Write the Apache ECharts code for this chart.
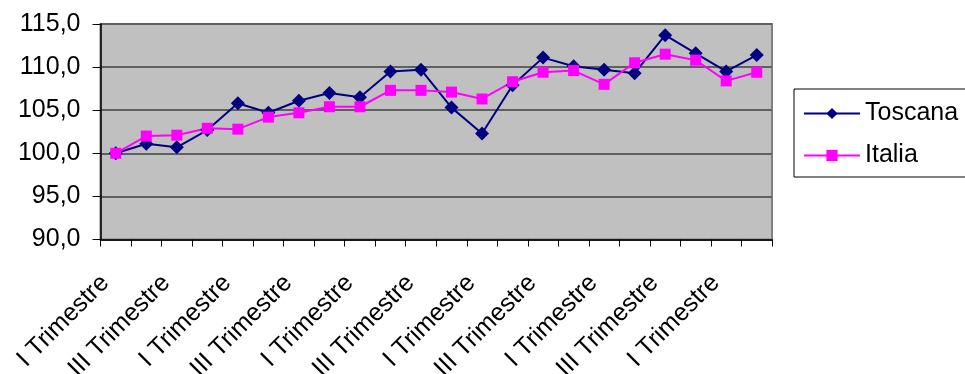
<!DOCTYPE html>
<html>
<head>
<meta charset="utf-8">
<script src="https://cdn.jsdelivr.net/npm/echarts@6/dist/echarts.min.js"></script>
<style>
  html, body { margin: 0; padding: 0; background: #fff; }
  #chart { width: 965px; height: 374px; }
</style>
</head>
<body>
<div id="chart"></div>
<script>
// Quarterly index (first quarter = 100)
const quarters = [
  'I Trimestre', 'II Trimestre', 'III Trimestre', 'IV Trimestre',
  'I Trimestre', 'II Trimestre', 'III Trimestre', 'IV Trimestre',
  'I Trimestre', 'II Trimestre', 'III Trimestre', 'IV Trimestre',
  'I Trimestre', 'II Trimestre', 'III Trimestre', 'IV Trimestre',
  'I Trimestre', 'II Trimestre', 'III Trimestre', 'IV Trimestre',
  'I Trimestre', 'II Trimestre'
];
const toscana = [100.0, 101.1, 100.7, 102.7, 105.8, 104.7, 106.1, 107.0, 106.5, 109.5, 109.7,
                 105.3, 102.3, 107.9, 111.1, 110.1, 109.7, 109.3, 113.7, 111.6, 109.5, 111.4];
const italia  = [100.0, 102.0, 102.1, 102.9, 102.8, 104.2, 104.7, 105.4, 105.4, 107.3, 107.3,
                 107.1, 106.3, 108.3, 109.4, 109.6, 108.0, 110.5, 111.5, 110.8, 108.4, 109.4];
const yTicks = { min: 90, max: 115, step: 5 };

const FONT = 'Liberation Sans, Arial, sans-serif';

const chart = echarts.init(document.getElementById('chart'), null, { renderer: 'canvas' });
chart.setOption({
  animation: false,
  backgroundColor: '#ffffff',
  grid: {
    left: 100.5, right: 193, top: 24, bottom: 134.5,
    containLabel: false,
    outerBoundsMode: 'none',
    show: true, backgroundColor: '#c0c0c0', borderColor: '#808080', borderWidth: 2
  },
  legend: {
    orient: 'vertical',
    left: 794, top: 89,
    padding: [12, 14, 9, 9],
    itemGap: 17,
    itemWidth: 56, itemHeight: 14,
    backgroundColor: '#ffffff',
    borderColor: '#000000', borderWidth: 1,
    textStyle: { fontFamily: FONT, fontSize: 25, color: '#000', lineHeight: 24 },
    data: ['Toscana', 'Italia']
  },
  xAxis: {
    type: 'category',
    data: quarters,
    boundaryGap: true,
    axisLine: { lineStyle: { color: '#000', width: 1.5 } },
    axisTick: { show: true, interval: 0, length: 7, lineStyle: { color: '#000', width: 1 } },
    axisLabel: {
      interval: 1, rotate: 45, margin: 29,
      padding: [0, 15, 0, 0],
      fontFamily: FONT, fontSize: 25, color: '#000'
    },
    splitLine: { show: false }
  },
  yAxis: {
    type: 'value',
    min: yTicks.min, max: yTicks.max, interval: yTicks.step,
    axisLine: { show: true, lineStyle: { color: '#000', width: 1.5 } },
    axisTick: { show: true, length: 8, lineStyle: { color: '#000', width: 1 } },
    axisLabel: {
      margin: 20,
      fontFamily: FONT, fontSize: 25, color: '#000',
      formatter: v => v.toFixed(1).replace('.', ',')
    },
    splitLine: { show: true, lineStyle: { color: '#606060', width: 2 } }
  },
  series: [
    {
      name: 'Toscana', type: 'line', data: toscana,
      symbol: 'diamond', symbolSize: 14,
      lineStyle: { color: '#000080', width: 2 },
      itemStyle: { color: '#000080' }
    },
    {
      name: 'Italia', type: 'line', data: italia,
      symbol: 'rect', symbolSize: 11,
      lineStyle: { color: '#ff00ff', width: 2 },
      itemStyle: { color: '#ff00ff' }
    }
  ]
});
</script>
</body>
</html>
